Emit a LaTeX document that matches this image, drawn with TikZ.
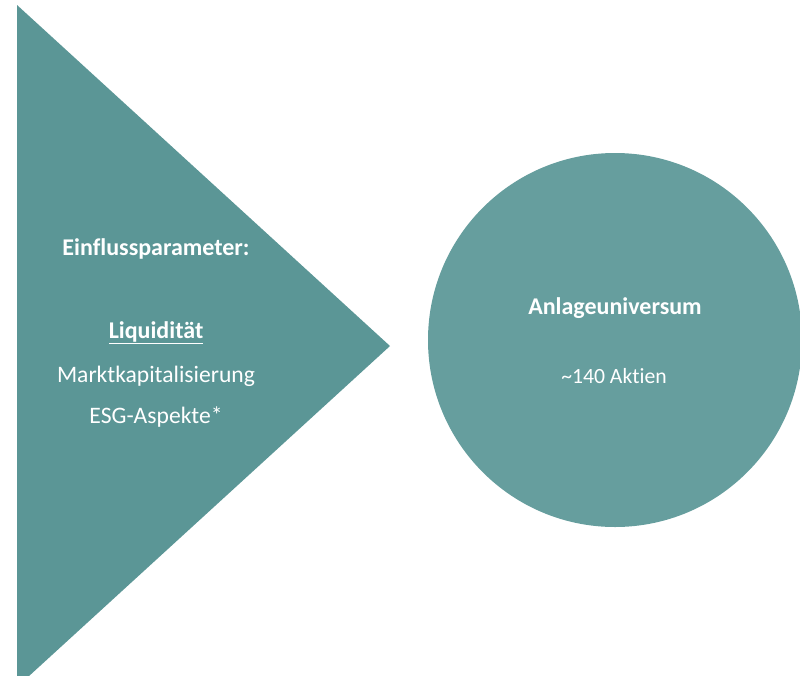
\documentclass[tikz,border=0pt]{standalone}
\usepackage{fontspec}
\setmainfont{Carlito}[Ligatures=NoCommon]
\definecolor{tealdark}{RGB}{91,150,150}
\definecolor{teallight}{RGB}{102,158,158}
\begin{document}
\begin{tikzpicture}[x=1pt,y=-1pt,
  lbl/.style={text=white,font=\fontsize{23.6}{28}\selectfont,inner sep=0pt,anchor=base},
  lblbold/.style={lbl,font=\fontsize{24}{28}\selectfont\bfseries}]
\useasboundingbox (0,0) rectangle (800,675);
\clip (0,0) rectangle (800,675);
% wedge pointing towards the universe
\fill[tealdark] (17,5) -- (390,346) -- (17,687) -- cycle;
% the investment universe
\node[circle,fill=teallight,minimum size=374pt,inner sep=0pt] (universe) at (615,340) {};
% labels of the wedge
\node[lblbold] (params) at (156,255) {Einflussparameter:};
\node[lblbold] (liq) at (156,338) {\underline{Liquidität}};
\node[lbl] (cap) at (156,382) {Marktkapitalisierung};
\node[lbl] (esg) at (156,423) {ESG-Aspekte*};
% labels of the circle
\node[lblbold] (title) at (615,314) {Anlageuniversum};
\node[lbl,font=\fontsize{21.7}{26}\selectfont] (count) at (614,383) {\char`\~140 Aktien};
\end{tikzpicture}
\end{document}
